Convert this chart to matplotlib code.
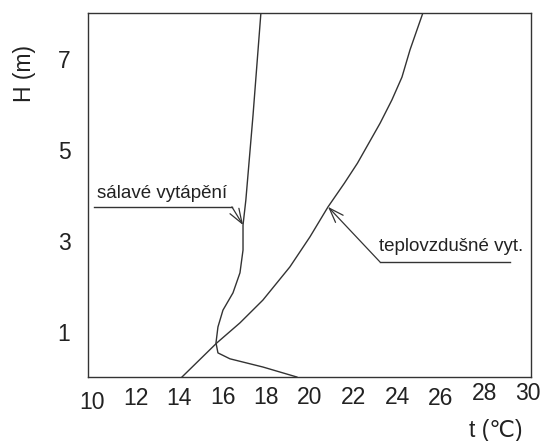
import matplotlib.pyplot as plt

plt.rcParams['font.family'] = ['Liberation Sans', 'DejaVu Sans']

# teploty (°C) a výšky (m)
salave_t = [17.75, 17.39, 17.06, 16.93, 16.93, 16.79, 16.47, 16.01, 15.78, 15.69, 15.78, 16.33, 17.84, 19.40]
salave_h = [8.00, 5.76, 3.89, 3.34, 2.79, 2.29, 1.85, 1.47, 1.10, 0.75, 0.53, 0.40, 0.22, 0.00]

teplo_t = [14.13, 15.73, 16.79, 17.84, 19.08, 20.00, 20.83, 21.58, 22.18, 22.70, 23.22, 23.76, 24.22, 24.59, 24.91, 25.18]
teplo_h = [0.00, 0.75, 1.19, 1.69, 2.42, 3.08, 3.74, 4.26, 4.70, 5.14, 5.58, 6.09, 6.59, 7.19, 7.63, 8.00]

x_ticks = [10, 12, 14, 16, 18, 20, 22, 24, 26, 28, 30]
y_ticks = [1, 3, 5, 7]

line_col = '#333333'

fig = plt.figure(figsize=(5.44, 4.41), dpi=100)
ax = fig.add_axes([0.1618, 0.1451, 0.8143, 0.8254])

ax.plot(salave_t, salave_h, color=line_col, lw=1.0)
ax.plot(teplo_t, teplo_h, color=line_col, lw=1.0)

ax.set_xlim(9.82, 30.14)
ax.set_ylim(0, 8)
ax.set_xticks([])
ax.set_yticks([])
for s in ax.spines.values():
    s.set_color(line_col)
    s.set_linewidth(1.0)

# popisky os (vlastní posuny jako v originále)
x_off = [-25, -21, -21, -20, -20, -20, -20, -20, -21, -16, -16]
for v, off in zip(x_ticks, x_off):
    ax.annotate(str(v), xy=(v, 0), xytext=(0, off), textcoords='offset pixels',
                ha='center', va='center', fontsize=16.5, color='#222222')
for v in y_ticks:
    ax.annotate(str(v), xy=(9.82, v), xytext=(-24, -3), textcoords='offset pixels',
                ha='center', va='center', fontsize=16.5, color='#222222')

fig.text(25 / 544, 1 - 74 / 441, 'H (m)', rotation=90, ha='center', va='center',
         fontsize=16.5, color='#222222')
fig.text(496 / 544, 1 - 430 / 441, 't (\u2103)', ha='center', va='center',
         fontsize=16.5, color='#222222')

# popisky křivek
arrow = dict(arrowstyle='->,head_length=0.7,head_width=0.25', color=line_col,
             lw=0.9, shrinkA=0, shrinkB=0, mutation_scale=15)
ax.plot([10.09, 16.42], [3.74, 3.74], color=line_col, lw=1.0)
ax.annotate('', xy=(salave_t[3], salave_h[3]), xytext=(16.42, 3.74), arrowprops=arrow)
ax.text(10.25, 4.03, 'sálavé vytápění', fontsize=13.5, ha='left', va='center', color='#222222')

ax.plot([23.21, 29.17], [2.53, 2.53], color=line_col, lw=1.0)
ax.annotate('', xy=(teplo_t[6], teplo_h[6]), xytext=(23.21, 2.53), arrowprops=arrow)
ax.text(23.15, 2.86, 'teplovzdušné vyt.', fontsize=13.5, ha='left', va='center', color='#222222')

fig.savefig('out.png', dpi=100)
